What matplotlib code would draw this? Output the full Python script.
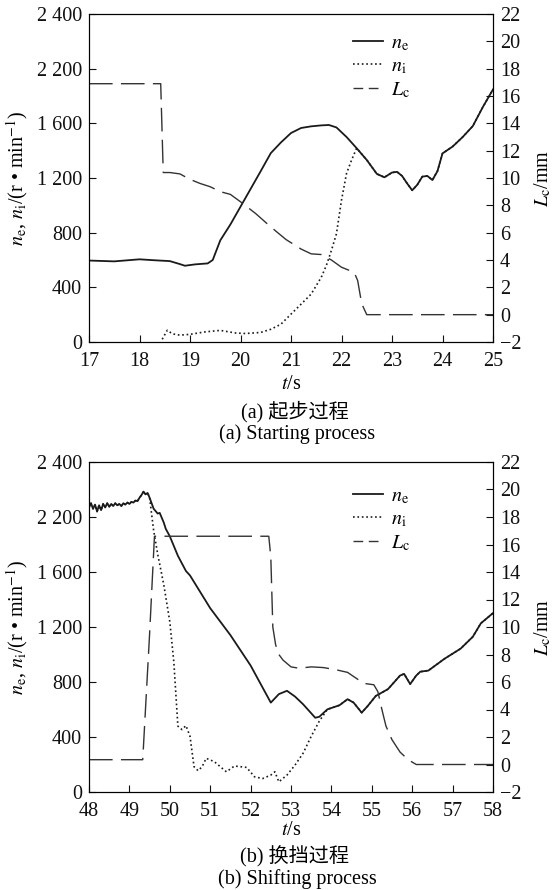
import numpy as np
import matplotlib
matplotlib.use("Agg")
import matplotlib.pyplot as plt
from matplotlib.lines import Line2D

plt.rcParams['font.family'] = ['Liberation Serif', 'Noto Sans CJK SC']
plt.rcParams['mathtext.fontset'] = 'stix'

# ===== (a) starting process =====
ta_ne = [17.0, 17.5, 18.0, 18.3, 18.6, 18.8, 18.9, 19.1, 19.35, 19.45, 19.6, 19.8, 20.0, 20.2,
         20.4, 20.6, 20.8, 21.0, 21.2, 21.4, 21.6, 21.75, 21.9, 22.1, 22.3, 22.5, 22.7, 22.85,
         23.0, 23.1, 23.2, 23.3, 23.4, 23.5, 23.6, 23.7, 23.8, 23.9, 24.0, 24.2, 24.4, 24.6,
         24.8, 25.0]
a_ne = [596, 590, 605, 598, 592, 570, 558, 568, 575, 600, 744, 860, 990, 1120,
        1250, 1382, 1460, 1529, 1566, 1578, 1585, 1588, 1570, 1500, 1418, 1332, 1230, 1205,
        1240, 1245, 1215, 1160, 1110, 1150, 1210, 1215, 1185, 1250, 1380, 1430, 1500, 1580,
        1720, 1848]
ta_ni = [18.45, 18.55, 18.65, 18.8, 19.0, 19.3, 19.6, 19.9, 20.1, 20.4, 20.6, 20.8, 21.0,
         21.2, 21.4, 21.6, 21.7, 21.8, 21.9, 22.0, 22.1, 22.2, 22.3]
a_ni = [20, 86, 60, 50, 56, 74, 85, 66, 62, 70, 93, 130, 204,
        277, 351, 474, 560, 670, 792, 1038, 1234, 1332, 1418]
ta_lc = [17.0, 18.42, 18.47, 18.6, 18.8, 19.0, 19.2, 19.4, 19.6, 19.8, 20.0, 20.3, 20.6,
         20.9, 21.2, 21.4, 21.6, 21.8, 22.0, 22.25, 22.32, 22.4, 22.5, 25.0]
a_lc = [16.9, 16.9, 10.4, 10.4, 10.3, 9.9, 9.6, 9.36, 9.0, 8.8, 8.26, 7.4, 6.42,
        5.5, 4.8, 4.45, 4.4, 4.0, 3.47, 3.1, 2.5, 0.8, 0.0, 0.0]

# ===== (b) shifting process =====
tb_ne = [48.0, 48.05, 48.1, 48.15, 48.2, 48.25, 48.3, 48.35, 48.4, 48.45, 48.5, 48.55, 48.6,
         48.65, 48.7, 48.75, 48.8, 48.85, 48.9, 48.95, 49.0, 49.05, 49.1, 49.15, 49.2, 49.25,
         49.3, 49.35, 49.4, 49.45, 49.5, 49.6, 49.7, 49.75, 49.85, 49.9, 50.0, 50.2, 50.4,
         50.5, 51.0, 51.5, 52.0, 52.5, 52.7, 52.9, 53.1, 53.3, 53.6, 53.7, 53.9, 54.2, 54.4,
         54.55, 54.75, 54.9, 55.1, 55.4, 55.7, 55.8, 55.95, 56.1, 56.2, 56.4, 56.8, 57.2,
         57.5, 57.7, 58.0]
b_ne = [2070, 2100, 2060, 2090, 2040, 2085, 2050, 2095, 2070, 2100, 2075, 2095, 2080,
        2100, 2085, 2095, 2080, 2100, 2090, 2105, 2095, 2110, 2105, 2120, 2115, 2140,
        2160, 2185, 2165, 2175, 2140, 2060, 2025, 2030, 1960, 1914, 1860, 1718, 1607,
        1575, 1337, 1141, 920, 650, 712, 736, 694, 638, 540, 547, 601, 631, 675,
        650, 577, 626, 699, 748, 847, 859, 785, 847, 875, 883, 969, 1043,
        1129, 1227, 1301]
tb_ni = [49.6, 49.7, 49.85, 50.0, 50.1, 50.2, 50.3, 50.4, 50.5, 50.6, 50.7, 50.8, 50.9,
         51.1, 51.4, 51.6, 51.9, 52.1, 52.3, 52.5, 52.6, 52.7, 52.9, 53.1, 53.3, 53.5, 53.7]
b_ni = [1902, 1730, 1509, 1239, 945, 479, 454, 483, 405, 184, 155, 184, 245,
        221, 147, 189, 179, 110, 98, 123, 147, 74, 123, 196, 282, 405, 515]
tb_lc = [48.0, 48.5, 49.0, 49.33, 49.5, 49.62, 52.45, 52.5, 52.55, 52.62, 52.7, 52.8, 53.0,
         53.2, 53.5, 53.8, 54.1, 54.4, 54.6, 54.8, 55.05, 55.15, 55.25, 55.35, 55.5, 55.7,
         55.9, 56.1, 58.0]
b_lc = [0.35, 0.35, 0.35, 0.35, 9.5, 16.6, 16.6, 15.1, 10.0, 8.7, 8.0, 7.6, 7.1,
        7.0, 7.1, 7.05, 6.9, 6.7, 6.3, 5.9, 5.8, 5.3, 4.0, 2.8, 1.8, 0.9,
        0.35, 0.0, 0.0]

yticks = [0, 400, 800, 1200, 1600, 2000, 2400]
ytick_labels = ['0', '400', '800', '1 200', '1 600', '2 200', '2 400']
rticks = list(range(-2, 23, 2))
rtick_labels = ['\u22122'] + [str(v) for v in rticks[1:]]

C = '#1a1a1a'
CD = '#333333'
W, H = 555, 890
X0, X1 = 89, 493


def merge_ni(t_ne, ne, t_ni, ni, from_start):
    # n_i sits on n_e outside its own stretch
    t_ne = np.array(t_ne); ne = np.array(ne)
    pre = (t_ne < t_ni[0]) & from_start
    post = t_ne > t_ni[-1]
    t = np.concatenate([t_ne[pre], t_ni, t_ne[post]])
    v = np.concatenate([ne[pre], ni, ne[post]])
    return t, v


def panel(top, bot, t_ne, ne, t_ni, ni, t_lc, lc, xlim, xticks, cap_cn, cap_en,
          ni_from_start, yoff, leg_y, xpad):
    rect = [X0 / W, 1 - bot / H, (X1 - X0) / W, (bot - top) / H]
    ax = fig.add_axes(rect)
    ax.plot(t_ne, ne, '-', color=C, lw=1.3)
    tt, vv = merge_ni(t_ne, ne, t_ni, ni, ni_from_start)
    ax.plot(tt, vv, ':', color=C, lw=1.2)
    ax.set_xlim(*xlim); ax.set_ylim(0, 2400)
    ax.set_xticks(xticks)
    ax.set_yticks(yticks); ax.set_yticklabels(ytick_labels)
    ax.tick_params(direction='in', labelsize=14.5, length=5, width=0.8, colors='#111')
    ax.tick_params(axis='x', pad=7)
    ax.tick_params(axis='y', pad=5)
    ax.set_xlabel('$t$/s', fontsize=14.5, labelpad=xpad)
    ax.set_ylabel('$n_\\mathrm{e}$, $n_\\mathrm{i}$/(r \u2022 min$^{-1}$)', fontsize=14.5)
    ax.yaxis.set_label_coords((30 - X0) / (X1 - X0), 0.5)

    ax2 = ax.twinx()
    ax2.plot(t_lc, lc, '-', color=CD, lw=1.0, dashes=(17, 6))
    ax2.set_ylim(-2, 22)
    ax2.set_yticks(rticks); ax2.set_yticklabels(rtick_labels)
    ax2.tick_params(direction='in', labelsize=14.5, length=5, width=0.8, colors='#111', pad=5)
    ax2.set_ylabel('$L_\\mathrm{c}$/mm', fontsize=14.5)
    ax2.yaxis.set_label_coords((533 - X0) / (X1 - X0), 0.5)
    for a in (ax, ax2):
        for s in a.spines.values():
            s.set_linewidth(0.8)

    handles = [Line2D([], [], color=C, lw=1.3, ls='-'),
               Line2D([], [], color=C, lw=1.2, ls=':'),
               Line2D([], [], color=CD, lw=1.0, dashes=(7, 4))]
    ax2.legend(handles, ['$n_\\mathrm{e}$', '$n_\\mathrm{i}$', '$L_\\mathrm{c}$'],
               loc='upper left', bbox_to_anchor=((353 - X0) / (X1 - X0) - 0.045, leg_y),
               frameon=False, fontsize=14.5, handlelength=1.5, handletextpad=0.4,
               labelspacing=0.22)
    fig.text(295 / W, 1 - (yoff + 412) / H, cap_cn, ha='center', va='center', fontsize=14.5)
    fig.text(297 / W, 1 - (yoff + 434) / H, cap_en, ha='center', va='center', fontsize=14.5)
    return ax


fig = plt.figure(figsize=(W / 100, H / 100), dpi=100)

panel(14, 342, ta_ne, a_ne, ta_ni, a_ni, ta_lc, a_lc,
      (17, 25), range(17, 26), '(a) 起步过程', '(a) Starting process', False, 0, 0.995, 3)
panel(462, 792, tb_ne, b_ne, tb_ni, b_ni, tb_lc, b_lc,
      (48, 58), range(48, 59), '(b) 换挡过程', '(b) Shifting process', True, 445, 0.98, 0)

fig.savefig('out.png', dpi=100)
